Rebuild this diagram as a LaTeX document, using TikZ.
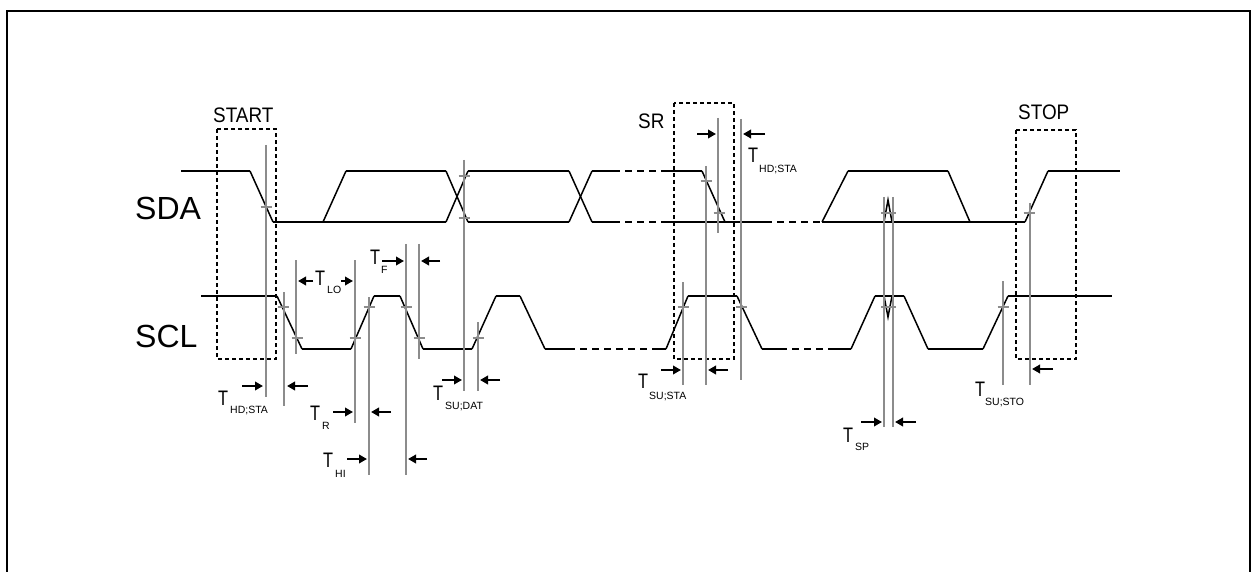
\documentclass[tikz,border=0pt]{standalone}
\usepackage{fontspec}
\setmainfont{Liberation Sans}
\usetikzlibrary{arrows.meta}
\definecolor{gline}{RGB}{140,140,140}
\begin{document}
\begin{tikzpicture}[x=1pt,y=-1pt,
  hz/.style={line width=2.4pt},
  hzd/.style={line width=2.4pt, dash pattern=on 7pt off 5pt},
  sl/.style={line width=1.5pt},
  box/.style={line width=1.8pt, dash pattern=on 4pt off 3pt},
  gl/.style={draw=gline, line width=1.8pt},
  tick/.style={draw=gline, line width=2.4pt},
  arr/.style={line width=2.6pt, -{Triangle[length=8pt,width=8.5pt]}},
  tl/.style={anchor=base west, inner sep=0pt, font=\fontsize{21}{21}\selectfont, xscale=0.78},
  sub/.style={anchor=base west, inner sep=0pt, font=\fontsize{10.5}{10.5}\selectfont},
  big/.style={anchor=base west, inner sep=0pt, font=\fontsize{32}{32}\selectfont},
  cond/.style={anchor=base west, inner sep=0pt, font=\fontsize{21}{21}\selectfont, xscale=0.9}
]
\useasboundingbox (0,0) rectangle (1253,572);
% frame
\draw[line width=2.2pt] (7,572) -- (7,11) -- (1250,11) -- (1250,572);

% ---- SDA (hi 171, lo 222)
\draw[hz] (181,171) -- (250,171);
\draw[hz] (273,222) -- (446,222);
\draw[hz] (346,171) -- (446,171);
\draw[hz] (468,171) -- (569,171);
\draw[hz] (468,222) -- (569,222);
\draw[hz] (592,171) -- (613,171);
\draw[hz] (592,222) -- (613,222);
\draw[hzd] (613,171) -- (667,171);
\draw[hzd] (613,222) -- (667,222);
\draw[hz] (667,171) -- (702,171);
\draw[hz] (667,222) -- (765,222);
\draw[hzd] (765,222) -- (822,222);
\draw[hz] (822,222) -- (1025,222);
\draw[hz] (848,171) -- (948,171);
\draw[hz] (1048,171) -- (1120,171);
\draw[sl] (250,171) -- (273,222);
\draw[sl] (323,222) -- (346,171);
\draw[sl] (446,171) -- (468,222);
\draw[sl] (446,222) -- (468,171);
\draw[sl] (569,171) -- (592,222);
\draw[sl] (569,222) -- (592,171);
\draw[sl] (702,171) -- (725,222);
\draw[sl] (822,222) -- (848,171);
\draw[sl] (948,171) -- (970,222);
\draw[sl] (1025,222) -- (1048,171);
\draw[sl] (884,222) -- (888,200) -- (892,222);

% ---- SCL (hi 296, lo 349)
\draw[hz] (201,296) -- (277,296);
\draw[hz] (302,349) -- (351,349);
\draw[hz] (374,296) -- (400,296);
\draw[hz] (423,349) -- (472,349);
\draw[hz] (496,296) -- (520,296);
\draw[hz] (545,349) -- (568,349);
\draw[hzd] (568,349) -- (657,349);
\draw[hz] (657,349) -- (666,349);
\draw[hz] (688,296) -- (737,296);
\draw[hz] (762,349) -- (780,349);
\draw[hzd] (780,349) -- (833,349);
\draw[hz] (833,349) -- (851,349);
\draw[hz] (875,296) -- (904,296);
\draw[hz] (928,349) -- (983,349);
\draw[hz] (1008,296) -- (1112,296);
\draw[sl] (277,296) -- (302,349);
\draw[sl] (351,349) -- (374,296);
\draw[sl] (400,296) -- (423,349);
\draw[sl] (472,349) -- (496,296);
\draw[sl] (520,296) -- (545,349);
\draw[sl] (666,349) -- (688,296);
\draw[sl] (737,296) -- (762,349);
\draw[sl] (851,349) -- (875,296);
\draw[sl] (904,296) -- (928,349);
\draw[sl] (983,349) -- (1008,296);
\draw[sl] (884,296) -- (888,317) -- (892,296);

% ---- dashed boxes
\draw[box] (217,129) rectangle (276,359);
\draw[box] (674,103) rectangle (734,359);
\draw[box] (1016,130) rectangle (1076,359);

% ---- gray guide lines
\draw[gl] (266,145) -- (266,397);
\draw[gl] (284,292) -- (284,406);
\draw[gl] (296,260) -- (296,354);
\draw[gl] (355,260) -- (355,423);
\draw[gl] (369,297) -- (369,475);
\draw[gl] (406,244) -- (406,475);
\draw[gl] (419,244) -- (419,359);
\draw[gl] (464,160) -- (464,391);
\draw[gl] (478,322) -- (478,391);
\draw[gl] (718,118) -- (718,233);
\draw[gl] (706,166) -- (706,385);
\draw[gl] (741,119) -- (741,380);
\draw[gl] (683,282) -- (683,385);
\draw[gl] (884,197) -- (884,427);
\draw[gl] (893,197) -- (893,427);
\draw[gl] (1003,281) -- (1003,385);
\draw[gl] (1030,203) -- (1030,385);

% ---- ticks
\foreach \x/\y in {266/207,283/307,297/338,355/338,369/307,406/307,419/338,464/176,464/218,478/338,719/213,706/181,741/307,683/307,1003/307,1029/213}
  \draw[tick] (\x-5.5,\y) -- (\x+5.5,\y);
\draw[tick] (881,213) -- (896,213);
\draw[tick] (881,307) -- (896,307);

% ---- arrows
\draw[arr] (242,386) -- (263,386);
\draw[arr] (308,386) -- (287,386);
\draw[arr] (313,281) -- (298,281);
\draw[arr] (341,281) -- (353,281);
\draw[arr] (382,261) -- (404,261);
\draw[arr] (440,261) -- (421,261);
\draw[arr] (333,412) -- (353,412);
\draw[arr] (391,412) -- (371,412);
\draw[arr] (347,459) -- (367,459);
\draw[arr] (427,459) -- (408,459);
\draw[arr] (442,380) -- (462,380);
\draw[arr] (500,380) -- (480,380);
\draw[arr] (697,134) -- (716,134);
\draw[arr] (765,134) -- (743,134);
\draw[arr] (661,370) -- (681,370);
\draw[arr] (728,370) -- (708,370);
\draw[arr] (861,422) -- (882,422);
\draw[arr] (916,422) -- (895,422);
\draw[arr] (1053,369) -- (1032,369);

% ---- labels
\node[big] (sda) at (135,220) {SDA};
\node[big] (scl) at (135,347) {SCL};
\node[cond] (start) at (213,123) {START};
\node[cond] (sr) at (638,129) {SR};
\node[cond] (stop) at (1018,120) {STOP};

\node[tl] (t1) at (218,405) {T};  \node[sub] (s1) at (230,413) {HD;STA};
\node[tl] (t2) at (315,285) {T};  \node[sub] (s2) at (327,293) {LO};
\node[tl] (t3) at (370,265) {T};  \node[sub] (s3) at (381,273) {F};
\node[tl] (t4) at (310,420) {T};  \node[sub] (s4) at (322,429) {R};
\node[tl] (t5) at (323,467) {T};  \node[sub] (s5) at (335,477) {HI};
\node[tl] (t6) at (433,400) {T};  \node[sub] (s6) at (445,409) {SU;DAT};
\node[tl] (t7) at (748,163) {T};  \node[sub] (s7) at (759,173) {HD;STA};
\node[tl] (t8) at (638,388) {T};  \node[sub] (s8) at (649,399) {SU;STA};
\node[tl] (t9) at (843,442) {T};  \node[sub] (s9) at (855,450) {SP};
\node[tl] (t10) at (975,396) {T}; \node[sub] (s10) at (985,405) {SU;STO};
\end{tikzpicture}
\end{document}
